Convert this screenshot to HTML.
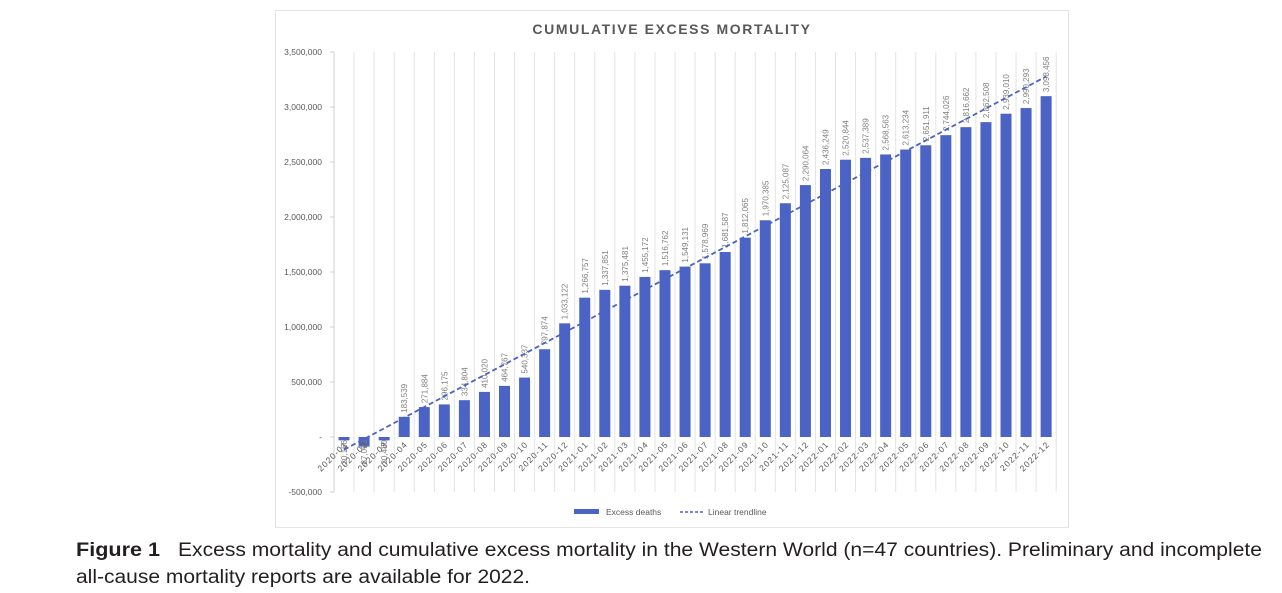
<!DOCTYPE html>
<html><head><meta charset="utf-8"><style>
body{margin:0;background:#fff;width:1282px;height:593px;overflow:hidden;font-family:"Liberation Sans",sans-serif}
svg{display:block}
</style></head><body>
<svg id="chart" width="1282" height="593" viewBox="0 0 1282 593" xmlns="http://www.w3.org/2000/svg">
<rect x="275.5" y="10.5" width="793" height="517" fill="#fff" stroke="#e4e4e4"/>
<text x="672" y="34" text-anchor="middle" font-size="14" font-weight="bold" letter-spacing="1.6" fill="#595959">CUMULATIVE EXCESS MORTALITY</text>
<g id="grid"></g><g id="yaxis"></g><g id="bars"></g><g id="labels"></g><g id="xlabels"></g><g id="trend"></g>
<g>
<rect x="574" y="509" width="25" height="5" fill="#4a63c4"/>
<text x="606" y="515" font-size="8.5" fill="#595959">Excess deaths</text>
<line x1="680" y1="512" x2="705" y2="512" stroke="#4a63c4" stroke-width="1.5" stroke-dasharray="3,2"/>
<text x="708" y="515" font-size="8.5" fill="#595959">Linear trendline</text>
</g>
<text x="76" y="556" font-size="19" font-weight="bold" fill="#231f20" textLength="84" lengthAdjust="spacingAndGlyphs">Figure 1</text>
<text x="178" y="556" font-size="19" fill="#231f20" textLength="1084" lengthAdjust="spacingAndGlyphs">Excess mortality and cumulative excess mortality in the Western World (n=47 countries). Preliminary and incomplete</text>
<text x="76" y="583" font-size="19" fill="#231f20" textLength="454" lengthAdjust="spacingAndGlyphs">all-cause mortality reports are available for 2022.</text>
</svg>
<script>
const categories=["2020-01","2020-02","2020-03","2020-04","2020-05","2020-06","2020-07","2020-08","2020-09","2020-10","2020-11","2020-12","2021-01","2021-02","2021-03","2021-04","2021-05","2021-06","2021-07","2021-08","2021-09","2021-10","2021-11","2021-12","2022-01","2022-02","2022-03","2022-04","2022-05","2022-06","2022-07","2022-08","2022-09","2022-10","2022-11","2022-12"];
const values=[-30166,-87093,-30480,183539,271884,296175,334804,410020,464767,540337,797874,1033122,1266757,1337851,1375481,1455172,1516762,1549131,1578969,1681587,1812065,1970385,2125087,2290064,2436249,2520844,2537389,2568563,2613234,2651911,2744026,2816662,2862508,2939010,2990293,3098456];
const yTicks=[3500000,3000000,2500000,2000000,1500000,1000000,500000,0,-500000];
const NS="http://www.w3.org/2000/svg";
const x0=334,step=20.06,y0=437,pxPer=55/500000;
const yS=v=>y0-v*pxPer;
const xS=i=>x0+step*(i+0.5);
const fmt=v=>v===0?"-":v.toLocaleString("en-US");
function mk(tag,attrs,parent,txt){const e=document.createElementNS(NS,tag);for(const k in attrs)e.setAttribute(k,attrs[k]);if(txt!==undefined)e.textContent=txt;document.getElementById(parent).appendChild(e);return e;}
for(let i=0;i<=categories.length;i++){
 const g=mk("line",{x1:x0+step*i,x2:x0+step*i,y1:yS(3500000),y2:yS(-500000),stroke:i===0?"#d0d0d0":"#e3e3e3","stroke-width":1},"grid");
 
 
}
yTicks.forEach(t=>{
 const tk=mk("line",{x1:x0-4,x2:x0,y1:yS(t),y2:yS(t),stroke:"#d0d0d0"},"yaxis");
 
 
 const l=mk("text",{x:322,y:yS(t)+3,"text-anchor":"end","font-size":8.5,fill:"#595959"},"yaxis",fmt(t));
 
 
});
values.forEach((v,i)=>{
 const top=Math.min(yS(v),y0),h=Math.abs(yS(v)-y0);
 const b=mk("rect",{x:xS(i)-5.5,y:top,width:11,height:h,fill:"#4a63c4"},"bars");
 
 
 const ly=v>=0?yS(v)-4:y0+3;
 const lab=mk("text",{transform:`translate(${xS(i)+3},${ly}) rotate(-90)`,"font-size":8,fill:"#7f7f7f","text-anchor":v>=0?"start":"end"},"labels",fmt(v));
 
 
 const xl=mk("text",{transform:`translate(${xS(i)+4},${y0+8}) rotate(-45)`,"font-size":8.5,fill:"#595959","text-anchor":"end","letter-spacing":"1"},"xlabels",categories[i]);
 
 
});
const n=values.length;let sx=0,sy=0,sxy=0,sxx=0;
values.forEach((v,i)=>{sx+=i;sy+=v;sxy+=i*v;sxx+=i*i;});
const slope=(n*sxy-sx*sy)/(n*sxx-sx*sx),icpt=(sy-slope*sx)/n;
const tl=mk("line",{x1:xS(0),y1:yS(icpt),x2:xS(n-1),y2:yS(icpt+slope*(n-1)),stroke:"#4a63c4","stroke-width":1.8,"stroke-dasharray":"5,3"},"trend");


</script>
</body></html>
